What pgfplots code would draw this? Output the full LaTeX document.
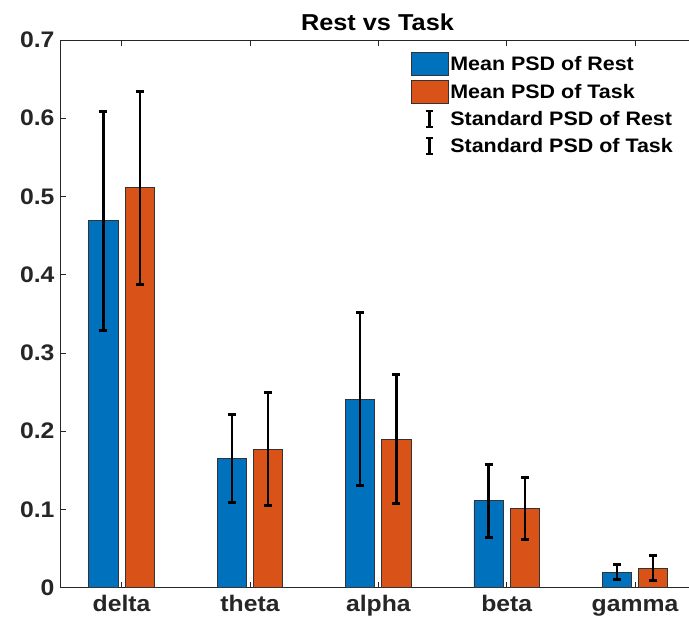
\documentclass[border=0pt]{standalone}
\usepackage{fontspec}
\setmainfont{Liberation Sans}[FakeStretch=1.1]
\usepackage{pgfplots}
\pgfplotsset{compat=1.18}

\definecolor{mblue}{rgb}{0,0.447,0.741}
\definecolor{morange}{rgb}{0.851,0.325,0.098}
\definecolor{axgray}{HTML}{262626}

\pgfplotsset{
  barpatch/.style={legend image code/.code={
      \draw[##1,line width=0.8pt] (0pt,-11.5pt) rectangle (37pt,11.5pt);}},
  errpatch/.style={legend image code/.code={
      \path[draw=none,fill=none] (0pt,-11.5pt) rectangle (37pt,11.5pt);
      \draw[black,line width=2.2pt] (18.5pt,-8pt) -- (18.5pt,8pt);
      \draw[black,line width=2.2pt] (15pt,8pt) -- (22pt,8pt);
      \draw[black,line width=2.2pt] (15pt,-8pt) -- (22pt,-8pt);}},
}

\begin{document}
\begin{tikzpicture}
\begin{axis}[name=ax,
  scale only axis, width=635pt, height=547.7pt,
  xmin=0.52, xmax=5.467, ymin=0, ymax=0.7,
  ybar=7pt, bar width=29.3pt,
  xtick={1,...,5}, xticklabels={delta,theta,alpha,beta,gamma},
  xtick pos=both, ytick pos=left,
  ytick={0,0.1,...,0.7},
  tick align=inside, major tick length=6pt,
  yticklabel={\pgfmathprintnumber[fixed,precision=1]{\tick}},
  /pgf/number format/assume math mode=true,
  ticklabel style={font=\fontsize{22.5}{26}\selectfont\bfseries, text=axgray},
  yticklabel style={xshift=-2pt},
  xticklabel style={text height=16pt, text depth=5pt, yshift=-4pt},
  axis line style={axgray, line width=0.8pt},
  tick style={axgray, line width=0.8pt},
  title={Rest vs Task},
  title style={font=\fontsize{23}{27}\selectfont\bfseries},
  legend style={draw=none, fill=none, inner sep=0pt,
    at={(0.5517,0.978)}, anchor=north west,
    font=\fontsize{19.5}{23}\selectfont\bfseries,
    row sep=4pt, nodes={inner xsep=2pt, inner ysep=0pt}},
  legend cell align=left,
  error bars/y dir=both, error bars/y explicit,
  error bars/error bar style={black, line width=2.5pt},
  error bars/error mark options={black, line width=3pt, mark size=4pt, rotate=90},
]
\addplot+[fill=mblue, draw=black!80, line width=0.8pt, barpatch] coordinates {
  (1,0.469) +- (0,0.140)
  (2,0.165) +- (0,0.056)
  (3,0.241) +- (0,0.111)
  (4,0.111) +- (0,0.047)
  (5,0.020) +- (0,0.010)
};
\addplot+[fill=morange, draw=black!80, line width=0.8pt, barpatch] coordinates {
  (1,0.511) +- (0,0.123)
  (2,0.177) +- (0,0.072)
  (3,0.190) +- (0,0.083)
  (4,0.101) +- (0,0.040)
  (5,0.025) +- (0,0.016)
};
\addlegendentry{Mean PSD of Rest}
\addlegendentry{Mean PSD of Task}
\addlegendimage{errpatch}
\addlegendentry{Standard PSD of Rest}
\addlegendimage{errpatch}
\addlegendentry{Standard PSD of Task}
\end{axis}
\pgfresetboundingbox
\path ([xshift=-60pt,yshift=-36.3pt]ax.south west) rectangle ([xshift=-6pt,yshift=40pt]ax.north east);
\end{tikzpicture}
\end{document}
